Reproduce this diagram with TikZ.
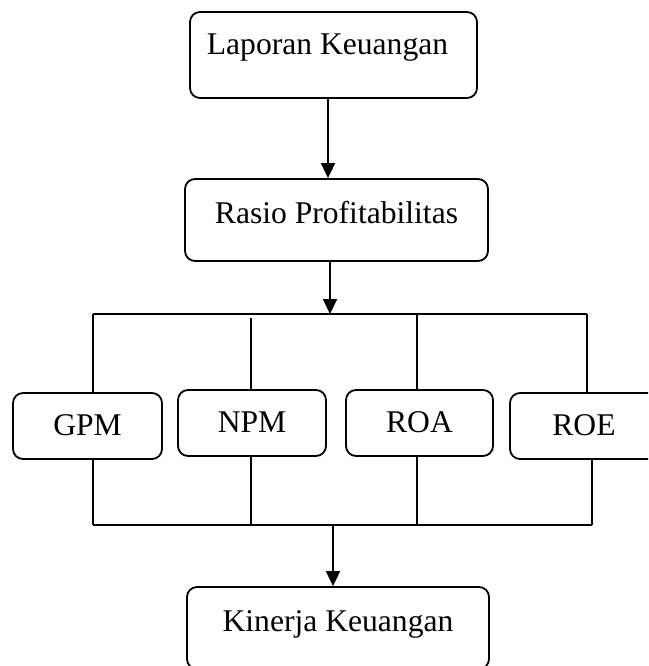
\documentclass[tikz,border=0pt]{standalone}
\usepackage{fontspec}
\setmainfont{Liberation Serif}
\usetikzlibrary{arrows.meta}
\begin{document}
\begin{tikzpicture}[x=1pt,y=-1pt,
  box/.style={draw,line width=1.8pt,rounded corners=10pt,inner sep=0pt,
    font=\fontsize{31.6}{38}\selectfont},
  bigbox/.style={box,text height=22pt,text depth=16pt},
  smallbox/.style={box,minimum height=66pt,text height=22pt,text depth=3pt},
  conn/.style={line width=1.8pt},
  arr/.style={line width=1.8pt,-{Triangle[width=14pt,length=15pt]}}]
\path[use as bounding box,clip] (0,0) rectangle (648,666);
\node[box,minimum width=287pt,minimum height=86pt,text height=22pt,text depth=22pt] (lap) at (333.5,55) {\hspace*{-12pt}Laporan Keuangan};
\node[bigbox,minimum width=303pt,minimum height=82pt] (ras) at (336.5,220) {Rasio Profitabilitas};
\node[smallbox,minimum width=149pt] (gpm) at (87.5,426) {GPM};
\node[smallbox,minimum width=148pt] (npm) at (252,423) {NPM};
\node[smallbox,minimum width=147pt] (roa) at (419.5,423) {ROA};
\node[smallbox,minimum width=148pt] (roe) at (584,426) {ROE};
\node[bigbox,minimum width=302pt,minimum height=82pt] (kin) at (338,628) {Kinerja Keuangan};
\coordinate (t1) at (93,314);
\coordinate (t4) at (587,314);
\coordinate (n1) at (251,318);
\coordinate (r1) at (417,314);
\coordinate (b1) at (93,525);
\coordinate (b4) at (592,525);
% arrows
\draw[arr] ([xshift=-5.5pt]lap.south) -- ([xshift=-5.5pt]lap.south |- ras.north);
\draw[arr] ([xshift=-6.5pt]ras.south) -- ([xshift=-6.5pt]ras.south |- t1);
\draw[arr] ([xshift=-5pt]kin.north |- b1) -- ([xshift=-5pt]kin.north);
% distribution lines
\draw[conn] (t1) -- (t4);
\draw[conn] (t1) -- (t1 |- gpm.north);
\draw[conn] (n1) -- (n1 |- npm.north);
\draw[conn] (r1) -- (r1 |- roa.north);
\draw[conn] (t4) -- (t4 |- roe.north);
% collection lines
\draw[conn] (b1) -- (b4);
\draw[conn] (t1 |- gpm.south) -- (b1);
\draw[conn] (n1 |- npm.south) -- (n1 |- b1);
\draw[conn] (r1 |- roa.south) -- (r1 |- b1);
\draw[conn] (b4 |- roe.south) -- (b4);
\end{tikzpicture}
\end{document}
